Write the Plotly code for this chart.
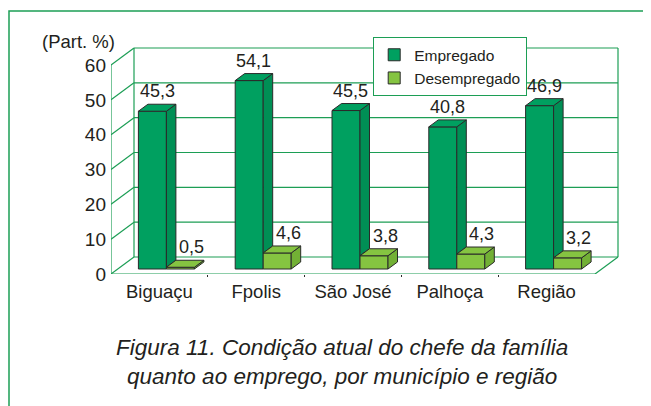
import plotly.graph_objects as go

# data
categories = ["Biguaçu", "Fpolis", "São José", "Palhoça", "Região"]
empregado = [45.3, 54.1, 45.5, 40.8, 46.9]
desempregado = [0.5, 4.6, 3.8, 4.3, 3.2]
y_ticks = [0, 10, 20, 30, 40, 50, 60]

# colours
GREEN_DARK = "#00a060"
GREEN_DARK_SIDE = "#008f55"
GREEN_LIGHT = "#85c441"
GREEN_LIGHT_SIDE = "#72b035"
WALL = "#1c9e55"
EDGE = "#2a2a2a"
TXT = "#231f20"

# window size and the page's body margin (figure is drawn at 8,8)
W, H = 651, 406
OFF = 8
# plot area in window pixels (front plane: x=-0.5 at left, y=0 at bottom)
PL, PR, PT, PB = 111, 621, 46, 274
PX_X = 96.8          # px per category
PX_Y = 3.483         # px per percent unit
x_range = [-0.5, -0.5 + (PR - PL) / PX_X]
y_range = [0, (PB - PT) / PX_Y]

# 3d offsets (in data units)
WX, WY = 23 / PX_X, 17 / PX_Y        # wall depth
BX, BY = 7 / PX_X, 5 / PX_Y          # bar plane offset from front
DX, DY = 9.5 / PX_X, 7 / PX_Y        # bar depth
BW = 28 / PX_X                       # bar width

def paper_x(px):
    return (px - PL) / (PR - PL)

def paper_y(py):
    return (PB - py) / (PB - PT)

n = len(categories)
xe = [i + BX - BW for i in range(n)]   # left edge of Empregado front face
xd = [i + BX for i in range(n)]        # left edge of Desempregado front face

fig = go.Figure()

fig.add_trace(go.Bar(
    x=xd, y=empregado, base=BY, width=BW, offset=-BW,
    name="Empregado", marker=dict(color=GREEN_DARK, line=dict(color=EDGE, width=1)),
    hoverinfo="skip",
))
fig.add_trace(go.Bar(
    x=xd, y=desempregado, base=BY, width=BW, offset=0,
    name="Desempregado", marker=dict(color=GREEN_LIGHT, line=dict(color=EDGE, width=1)),
    hoverinfo="skip",
))

def faces(lefts, vals, lows):
    sx, sy, tx, ty = [], [], [], []
    for x0, v, lo in zip(lefts, vals, lows):
        x1 = x0 + BW
        top = BY + v
        low = BY + lo
        sx += [x1, x1 + DX, x1 + DX, x1, x1, None]
        sy += [low, low + DY, top + DY, top, low, None]
        tx += [x0, x1, x1 + DX, x0 + DX, x0, None]
        ty += [top, top, top + DY, top + DY, top, None]
    return sx, sy, tx, ty

# Empregado side is only visible above the Desempregado box next to it
es = faces(xe, empregado, desempregado)
ds = faces(xd, desempregado, [0] * n)
for (sx, sy, tx, ty), side, front in [(es, GREEN_DARK_SIDE, GREEN_DARK),
                                      (ds, GREEN_LIGHT_SIDE, GREEN_LIGHT)]:
    fig.add_trace(go.Scatter(x=sx, y=sy, mode="lines", fill="toself", fillcolor=side,
                             line=dict(color=EDGE, width=1), showlegend=False, hoverinfo="skip"))
    fig.add_trace(go.Scatter(x=tx, y=ty, mode="lines", fill="toself", fillcolor=front,
                             line=dict(color=EDGE, width=1), showlegend=False, hoverinfo="skip"))

# walls and floor
shapes = []
line = dict(color=WALL, width=1.2)
for v in y_ticks:
    shapes.append(dict(type="line", xref="x", yref="y", x0=-0.5 + WX, x1=n - 0.5 + WX,
                       y0=v + WY, y1=v + WY, line=line, layer="below"))
    shapes.append(dict(type="line", xref="x", yref="y", x0=-0.5, x1=-0.5 + WX,
                       y0=v, y1=v + WY, line=line, layer="below"))
top_v = y_ticks[-1]
shapes += [
    dict(type="line", xref="x", yref="y", x0=-0.5 + WX, x1=-0.5 + WX, y0=WY, y1=top_v + WY, line=line, layer="below"),
    dict(type="line", xref="x", yref="y", x0=n - 0.5 + WX, x1=n - 0.5 + WX, y0=WY, y1=top_v + WY, line=line, layer="below"),
    dict(type="line", xref="x", yref="y", x0=-0.5, x1=-0.5, y0=0, y1=top_v, line=line, layer="below"),
    dict(type="line", xref="x", yref="y", x0=-0.5, x1=n - 0.5, y0=0, y1=0, line=line, layer="below"),
    dict(type="line", xref="x", yref="y", x0=n - 0.5, x1=n - 0.5 + WX, y0=0, y1=WY, line=line, layer="below"),
    # outer frame
    dict(type="rect", xref="paper", yref="paper", x0=paper_x(9), x1=paper_x(W + 10),
         y0=paper_y(H + 10), y1=paper_y(11), line=dict(color=WALL, width=1.5), layer="below"),
]

annotations = []
for i in range(n):
    annotations.append(dict(x=xe[i] + (BW + DX) / 2, y=BY + empregado[i] + DY, xref="x", yref="y",
                            text=f"{empregado[i]:.1f}".replace(".", ","), showarrow=False,
                            yanchor="bottom", yshift=1, font=dict(size=18, color=TXT)))
    annotations.append(dict(x=xd[i] + (BW + DX) / 2 + 0.065, y=BY + desempregado[i] + DY, xref="x", yref="y",
                            text=f"{desempregado[i]:.1f}".replace(".", ","), showarrow=False,
                            yanchor="bottom", yshift=1, font=dict(size=18, color=TXT)))
annotations.append(dict(x=paper_x(40), y=paper_y(42), xref="paper", yref="paper", text="(Part. %)",
                        showarrow=False, xanchor="left", yanchor="middle", font=dict(size=18.5, color=TXT)))
annotations.append(dict(x=paper_x(342), y=paper_y(362), xref="paper", yref="paper",
                        text="<i>Figura 11. Condição atual do chefe da família<br>quanto ao emprego, por município e região</i>",
                        showarrow=False, xanchor="center", yanchor="middle", align="center",
                        font=dict(size=22.5, color=TXT)))

fig.update_layout(
    width=W - OFF, height=H - OFF,
    margin=dict(l=PL - OFF, r=W - PR, t=PT - OFF, b=H - PB, pad=0),
    paper_bgcolor="white", plot_bgcolor="white",
    barmode="overlay",
    font=dict(family="Liberation Sans, Arial, sans-serif", color=TXT),
    shapes=shapes, annotations=annotations,
    legend=dict(x=paper_x(373), y=paper_y(37), xanchor="left", yanchor="top",
                bgcolor="white", bordercolor=WALL, borderwidth=1.2,
                font=dict(size=15.5, color=TXT), itemwidth=30, tracegroupgap=0),
    showlegend=True,
)
fig.update_xaxes(range=x_range, tickvals=list(range(n)), ticktext=categories,
                 showgrid=False, zeroline=False, showline=False, ticks="",
                 ticklabelstandoff=4, tickfont=dict(size=18.5, color=TXT),
                 minor=dict(tickvals=[i + 0.5 for i in range(n - 1)], ticks="outside",
                            ticklen=2, tickcolor=EDGE, tickwidth=1))
fig.update_yaxes(range=y_range, tickvals=y_ticks, showgrid=False, zeroline=False,
                 showline=False, ticks="", ticklabelstandoff=4, tickfont=dict(size=19, color=TXT))

fig.write_html("out.html")
